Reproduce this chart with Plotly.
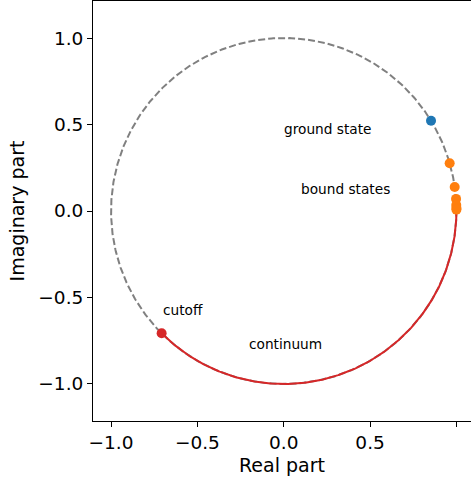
import numpy as np
import plotly.graph_objects as go

# Points on the unit circle (real part, imaginary part)
ground_re = [0.853]
ground_im = [0.522]

bound_re = [0.961, 0.990, 0.998, 0.999, 1.000, 1.000]
bound_im = [0.276, 0.139, 0.070, 0.035, 0.017, 0.008]

cutoff_re = [-0.707]
cutoff_im = [-0.707]

# Continuum arc spans from the cutoff angle up to zero (radians)
continuum_start = -3 * np.pi / 4
continuum_end = 0.0

tick_vals = [-1.0, -0.5, 0.0, 0.5, 1.0]
tick_text = ["\u22121.0", "\u22120.5", "0.0", "0.5", "1.0"]

labels = ["ground state", "bound states", "cutoff", "continuum"]
label_x = [-0.012, 0.09, -0.712, -0.212]
label_y = [0.475, 0.125, -0.575, -0.77]

FONT = "DejaVu Sans"
BLUE = "#1f77b4"
ORANGE = "#ff7f0e"
RED = "#d62728"
GRAY = "#808080"

theta = np.linspace(0, 2 * np.pi, 721)
arc = np.linspace(continuum_start, continuum_end, 361)

fig = go.Figure()

# dashed unit circle
fig.add_trace(go.Scatter(
    x=np.cos(theta), y=np.sin(theta), mode="lines",
    line=dict(color=GRAY, width=2, dash="7px,3px"),
    hoverinfo="skip", showlegend=False,
))
# continuum arc
fig.add_trace(go.Scatter(
    x=np.cos(arc), y=np.sin(arc), mode="lines",
    line=dict(color=RED, width=2),
    hoverinfo="skip", showlegend=False,
))
fig.add_trace(go.Scatter(
    x=cutoff_re, y=cutoff_im, mode="markers",
    marker=dict(color=RED, size=10), showlegend=False,
))
fig.add_trace(go.Scatter(
    x=bound_re, y=bound_im, mode="markers",
    marker=dict(color=ORANGE, size=10), showlegend=False,
))
fig.add_trace(go.Scatter(
    x=ground_re, y=ground_im, mode="markers",
    marker=dict(color=BLUE, size=10), showlegend=False,
))

for txt, lx, ly in zip(labels, label_x, label_y):
    fig.add_annotation(
        x=lx, y=ly, text=txt, showarrow=False,
        xanchor="left", yanchor="middle",
        font=dict(family=FONT, size=13.7, color="black"),
    )

axis_common = dict(
    showgrid=False, zeroline=False,
    showline=True, linecolor="black", linewidth=1,
    ticks="outside", ticklen=5, tickwidth=1, tickcolor="black",
    tickvals=tick_vals, ticktext=tick_text,
    tickfont=dict(family=FONT, size=18.5, color="black"),
)

fig.update_layout(
    width=471, height=481,
    margin=dict(l=93, r=0, t=1, b=60),
    paper_bgcolor="white", plot_bgcolor="white",
    xaxis=dict(
        range=[-1.1045, 1.0845], mirror=True,
        title=dict(text="Real part", font=dict(family=FONT, size=19, color="black"), standoff=6),
        **axis_common,
    ),
    yaxis=dict(
        range=[-1.214, 1.214],
        title=dict(text="Imaginary part", font=dict(family=FONT, size=19, color="black"), standoff=8),
        **axis_common,
    ),
)

fig.write_html("out.html")
